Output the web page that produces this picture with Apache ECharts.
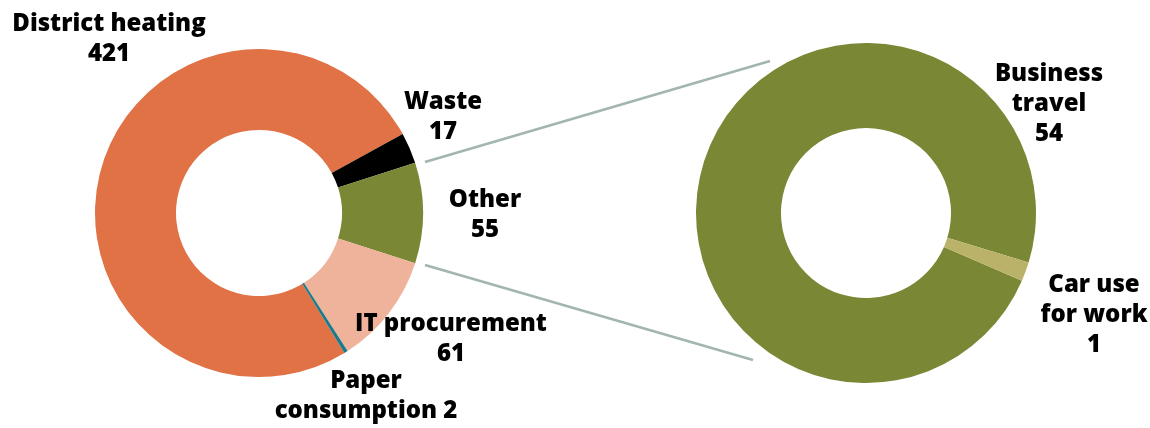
<!DOCTYPE html>
<html>
<head>
<meta charset="utf-8">
<script src="https://cdn.jsdelivr.net/npm/echarts@6/dist/echarts.min.js"></script>
<style>
  html, body { margin: 0; padding: 0; background: #fff; }
  #chart { width: 1150px; height: 428px; }
</style>
</head>
<body>
<div id="chart"></div>
<script>
// Emission sources (left ring) and breakdown of "Other" (right ring)
const mainNames  = ['District heating', 'Waste', 'Other', 'IT procurement', 'Paper\nconsumption'];
const mainValues = [421, 17, 55, 61, 2];
const mainColors = ['#E07246', '#000000', '#7A8734', '#EFB39B', '#1A7A8A'];

const otherNames  = ['Business\ntravel', 'Car use\nfor work'];
const otherValues = [54, 1];
const otherColors = ['#7A8734', '#BBB26A'];

// Where each label block is centred (pixels)
const mainLabelPos  = [[109, 39], [443, 117], [485, 215], [451, 339], [366, 396]];
const otherLabelPos = [[1049, 104], [1094, 315]];

// Label text: value on its own line, except where it follows the last word
const inlineValue = { 'Paper\nconsumption': true };
function labelText(p) {
  return p.name + (inlineValue[p.name] ? ' ' : '\n') + p.value;
}

const labelStyle = {
  show: true,
  formatter: labelText,
  color: '#000',
  fontFamily: '"Open Sans", "DejaVu Sans", sans-serif',
  fontWeight: 800,
  fontSize: 24,
  lineHeight: 30,
  align: 'center'
};

function layoutFrom(pos) {
  return function (params) {
    const p = pos[params.dataIndex];
    return { x: p[0], y: p[1], align: 'center', verticalAlign: 'middle' };
  };
}

const chart = echarts.init(document.getElementById('chart'), null, { renderer: 'canvas' });

const connectorStyle = { stroke: '#A2B5B0', lineWidth: 2.5 };

chart.setOption({
  backgroundColor: '#ffffff',
  animation: false,
  graphic: [
    { type: 'line', shape: { x1: 425, y1: 162, x2: 770, y2: 61 }, style: connectorStyle, z: 1 },
    { type: 'line', shape: { x1: 425, y1: 265, x2: 753, y2: 360 }, style: connectorStyle, z: 1 }
  ],
  series: [
    {
      type: 'pie',
      center: [259, 213],
      radius: [83, 164],
      startAngle: 301.4,
      clockwise: true,
      avoidLabelOverlap: false,
      itemStyle: { borderWidth: 0 },
      emphasis: { disabled: true },
      label: labelStyle,
      labelLine: { show: false },
      labelLayout: layoutFrom(mainLabelPos),
      data: mainNames.map((n, i) => ({ name: n, value: mainValues[i], itemStyle: { color: mainColors[i] } }))
    },
    {
      type: 'pie',
      center: [866, 213],
      radius: [85, 170],
      startAngle: 336.5,
      clockwise: true,
      avoidLabelOverlap: false,
      itemStyle: { borderWidth: 0 },
      emphasis: { disabled: true },
      label: labelStyle,
      labelLine: { show: false },
      labelLayout: layoutFrom(otherLabelPos),
      data: otherNames.map((n, i) => ({ name: n, value: otherValues[i], itemStyle: { color: otherColors[i] } }))
    }
  ]
});
</script>
</body>
</html>
